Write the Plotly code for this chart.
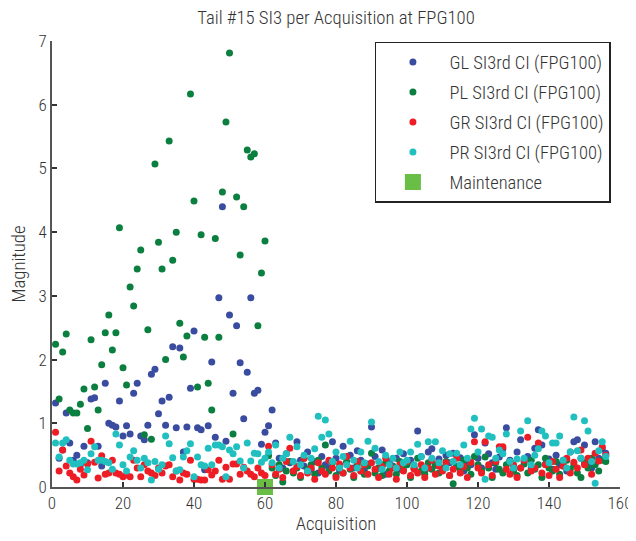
import plotly.graph_objects as go

acquisition = list(range(1, 157))

gl_si3 = [
    1.32, 0.45, 0.58, 1.16, 0.69, 0.42, 0.50, 0.35, 0.64, 0.38,
    1.38, 1.40, 0.64, 0.33, 1.63, 1.00, 0.97, 0.94, 1.35, 0.80,
    0.96, 0.83, 1.47, 1.63, 0.80, 0.74, 0.97, 1.77, 1.85, 1.15,
    1.35, 0.97, 1.41, 2.20, 0.93, 2.18, 0.55, 0.94, 1.55, 2.45,
    0.93, 0.90, 0.27, 0.96, 1.96, 0.78, 2.97, 4.40, 0.72, 2.70,
    1.47, 2.53, 1.95, 1.07, 1.80, 2.97, 1.47, 1.52, 0.67, 0.86,
    0.96, 1.21, 0.69, 0.45, 0.30, 0.52, 0.38, 0.25, 0.71, 0.42,
    0.33, 0.55, 0.28, 0.40, 0.22, 0.48, 0.35, 0.30, 0.71, 0.45,
    0.26, 0.64, 0.38, 0.50, 0.30, 0.57, 0.42, 0.25, 0.36, 0.94,
    0.48, 0.30, 0.58, 0.20, 0.40, 0.33, 0.45, 0.28, 0.52, 0.36,
    0.42, 0.30, 0.88, 0.48, 0.25, 0.55, 0.60, 0.34, 0.44, 0.28,
    0.50, 0.38, 0.53, 0.32, 0.46, 0.25, 0.40, 0.35, 0.82, 0.45,
    0.30, 0.69, 0.52, 0.38, 0.28, 0.47, 0.60, 0.93, 0.42, 0.33,
    0.55, 0.74, 0.40, 0.48, 0.30, 0.61, 0.90, 0.66, 0.36, 0.44,
    0.28, 0.50, 0.35, 0.42, 0.25, 0.55, 0.71, 0.74, 0.45, 0.66,
    0.38, 0.30, 0.71, 0.45, 0.60, 0.53,
]

pl_si3 = [
    2.24, 1.38, 2.12, 2.40, 1.21, 1.16, 1.16, 1.30, 1.54, 0.92,
    2.31, 1.57, 1.21, 1.92, 2.42, 2.70, 2.15, 2.42, 4.07, 1.87,
    1.60, 3.14, 2.84, 3.42, 3.72, 0.82, 2.47, 0.75, 5.07, 3.84,
    3.42, 2.00, 5.43, 3.56, 4.00, 2.57, 2.04, 2.37, 6.17, 4.49,
    1.57, 3.96, 2.35, 1.63, 1.21, 3.90, 2.35, 4.63, 5.73, 6.81,
    0.83, 4.55, 3.64, 4.40, 5.29, 5.18, 5.23, 2.53, 3.36, 3.86,
    0.49, 0.30, 0.18, 0.35, 0.08, 0.25, 0.40, 0.22, 0.30, 0.15,
    0.45, 0.28, 0.35, 0.20, 0.42, 0.30, 0.66, 0.25, 0.38, 0.18,
    0.30, 0.22, 0.40, 0.28, 0.15, 0.35, 0.25, 0.20, 0.33, 0.53,
    0.22, 0.30, 0.18, 0.38, 0.25, 0.32, 0.20, 0.40, 0.27, 0.35,
    0.15, 0.30, 0.45, 0.25, 0.20, 0.38, 0.28, 0.35, 0.22, 0.30,
    0.40, 0.18, 0.05, 0.33, 0.25, 0.42, 0.30, 0.20, 0.48, 0.35,
    0.25, 0.47, 0.30, 0.15, 0.38, 0.28, 0.22, 0.35, 0.40, 0.25,
    0.18, 0.30, 0.36, 0.22, 0.42, 0.28, 0.35, 0.15, 0.45, 0.30,
    0.25, 0.40, 0.20, 0.33, 0.42, 0.28, 0.35, 0.22, 0.15, 0.38,
    0.30, 0.45, 0.35, 0.25, 0.42, 0.40,
]

gr_si3 = [
    0.86, 0.25, 0.58, 0.33, 0.22, 0.16, 0.11, 0.28, 0.19, 0.36,
    0.72, 0.39, 0.14, 0.49, 0.20, 0.22, 0.42, 0.22, 0.20, 0.16,
    0.19, 0.16, 0.42, 0.30, 0.16, 0.35, 0.25, 0.22, 0.18, 0.30,
    0.22, 0.33, 0.35, 0.16, 0.25, 0.11, 0.22, 0.20, 0.42, 0.12,
    0.12, 0.11, 0.11, 0.27, 0.19, 0.25, 0.42, 0.12, 0.31, 0.12,
    0.36, 0.36, 0.20, 0.31, 0.25, 0.20, 0.16, 0.30, 0.22, 0.18,
    0.64, 0.35, 0.20, 0.28, 0.15, 0.40, 0.61, 0.25, 0.32, 0.18,
    0.45, 0.22, 0.30, 0.12, 0.38, 0.25, 0.20, 0.42, 0.30, 0.15,
    0.36, 0.22, 0.48, 0.30, 0.18, 0.40, 0.25, 0.35, 0.20, 0.38,
    0.28, 0.15, 0.32, 0.45, 0.20, 0.30, 0.12, 0.35, 0.25, 0.40,
    0.18, 0.28, 0.22, 0.35, 0.15, 0.30, 0.42, 0.20, 0.33, 0.25,
    0.38, 0.18, 0.28, 0.45, 0.22, 0.32, 0.15, 0.39, 0.71, 0.30,
    0.22, 0.71, 0.35, 0.18, 0.40, 0.63, 0.63, 0.28, 0.20, 0.35,
    0.15, 0.30, 0.42, 0.78, 0.25, 0.30, 0.69, 0.22, 0.35, 0.18,
    0.40, 0.28, 0.15, 0.33, 0.45, 0.22, 0.39, 0.30, 0.58, 0.35,
    0.45, 0.20, 0.53, 0.41, 0.63, 0.50,
]

pr_si3 = [
    0.69, 0.47, 0.69, 0.74, 0.42, 0.36, 0.36, 0.38, 0.42, 0.27,
    0.52, 0.63, 0.42, 0.42, 0.40, 0.38, 0.28, 0.83, 0.66, 0.35,
    0.25, 0.47, 0.57, 0.42, 0.30, 0.45, 0.38, 0.11, 0.40, 0.28,
    0.35, 0.80, 0.68, 0.46, 0.25, 0.27, 0.47, 0.57, 0.68, 0.16,
    0.47, 0.35, 0.33, 0.61, 0.35, 0.66, 0.66, 0.63, 0.16, 0.58,
    0.52, 0.63, 0.41, 0.30, 0.69, 0.41, 0.53, 0.52, 0.39, 0.45,
    0.55, 0.38, 0.66, 0.30, 0.45, 0.52, 0.78, 0.40, 0.63, 0.35,
    0.50, 0.25, 0.45, 0.60, 1.11, 0.78, 1.05, 0.83, 0.40, 0.55,
    0.30, 0.48, 0.35, 0.72, 0.42, 0.30, 0.55, 0.38, 0.72, 1.02,
    0.61, 0.40, 0.28, 0.50, 0.35, 0.45, 0.30, 0.55, 0.38, 0.42,
    0.55, 0.35, 0.67, 0.48, 0.30, 0.71, 0.45, 0.71, 0.38, 0.57,
    0.30, 0.52, 0.40, 0.53, 0.35, 0.66, 0.45, 0.91, 1.08, 0.55,
    0.91, 0.12, 0.80, 0.78, 0.45, 0.58, 0.52, 0.83, 0.40, 0.30,
    0.44, 0.88, 0.45, 1.04, 0.35, 0.50, 0.60, 0.88, 0.80, 0.38,
    0.69, 0.69, 0.80, 0.42, 0.30, 0.55, 1.10, 0.57, 0.45, 1.04,
    0.88, 0.40, 0.06, 0.57, 0.71, 0.48,
]

maintenance_x = [60]
maintenance_y = [0]

series_names = [
    "GL SI3rd CI (FPG100)",
    "PL SI3rd CI (FPG100)",
    "GR SI3rd CI (FPG100)",
    "PR SI3rd CI (FPG100)",
]
series_colors = ["#3A4CA0", "#0B7F3F", "#EE1D25", "#21C0C0"]
series_values = [gl_si3, pl_si3, gr_si3, pr_si3]

FONT = "Roboto Condensed, Liberation Sans Narrow, Arial Narrow, Liberation Sans, sans-serif"
TXT = "#333333"
W = 300

fig = go.Figure()
for i, (name, color, vals) in enumerate(zip(series_names, series_colors, series_values)):
    fig.add_trace(go.Scatter(
        x=acquisition, y=vals, mode="markers", name=name,
        marker=dict(color=color, size=7, line=dict(width=0)),
        cliponaxis=False, legendgroup=f"g{i}",
    ))
fig.add_trace(go.Scatter(
    x=maintenance_x, y=maintenance_y, mode="markers", name="Maintenance",
    marker=dict(color="#6ABD45", size=16, symbol="square", line=dict(width=0)),
    cliponaxis=False, legendgroup="g4",
))

axis_common = dict(
    showline=True, linecolor="#555555", linewidth=1.5,
    ticks="inside", ticklen=5, tickcolor="#333333", tickwidth=1.5,
    showgrid=False, zeroline=False, mirror=False, automargin=False,
    tickfont=dict(family=FONT, size=17, color=TXT, weight=W),
)

# page body has an 8px default margin, so the figure is 8px smaller and offset
fig.update_layout(
    width=628, height=533,
    margin=dict(l=44, r=16, t=33, b=54, autoexpand=False),
    paper_bgcolor="white", plot_bgcolor="white",
    title=dict(text="Tail #15 SI3 per Acquisition at FPG100", x=0.5223, xanchor="center",
               y=0.982, yanchor="middle",
               font=dict(family=FONT, size=18.7, color=TXT, weight=W)),
    xaxis=dict(range=[0, 160], dtick=20, tick0=0,
               title=dict(text="Acquisition", standoff=5,
                          font=dict(family=FONT, size=18.7, color=TXT, weight=W)),
               **axis_common),
    yaxis=dict(range=[0, 7], dtick=1, tick0=0,
               title=dict(text="Magnitude", standoff=8,
                          font=dict(family=FONT, size=18.7, color=TXT, weight=W)),
               **axis_common),
    legend=dict(x=0.984, y=0.998, xanchor="right", yanchor="top",
                bgcolor="white", bordercolor="#222222", borderwidth=1.5,
                font=dict(family=FONT, size=18.5, color=TXT, weight=W),
                traceorder="grouped", tracegroupgap=3, itemwidth=63),
    showlegend=True,
)

fig.write_html("out.html")
